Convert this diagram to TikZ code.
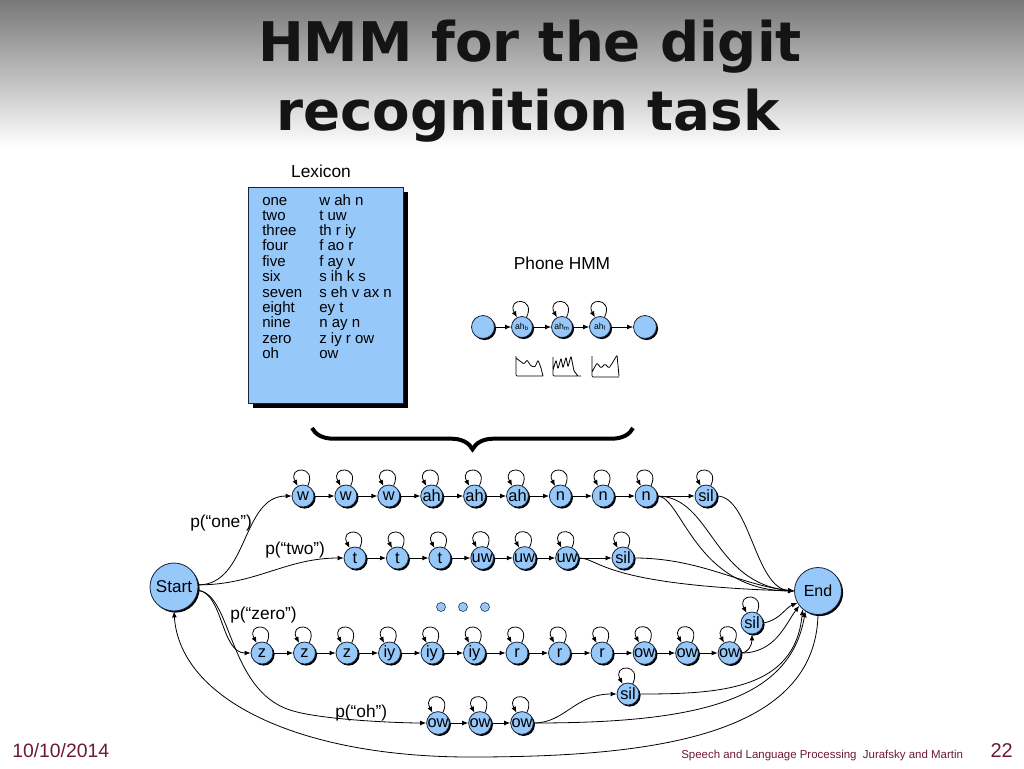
\documentclass[tikz,border=0pt]{standalone}
\usepackage{fontspec}
\setmainfont{Liberation Sans}
\newfontfamily\titlefont{DejaVu Sans}
\usetikzlibrary{arrows.meta,positioning,shadows,decorations.pathreplacing}
\definecolor{hmmblue}{RGB}{150,200,250}
\definecolor{hmmline}{RGB}{25,35,55}
\definecolor{footred}{RGB}{110,25,55}
\tikzstyle{state}=[circle,draw=hmmline,line width=0.6pt,fill=hmmblue,minimum size=16.5pt,inner sep=0pt,
  font=\fontsize{12.3}{13}\selectfont,drop shadow={shadow xshift=1.2pt,shadow yshift=-1.2pt,fill=black,opacity=1}]
\tikzstyle{bigstate}=[state,minimum size=36pt,font=\fontsize{12.8}{13}\selectfont]
\tikzstyle{phstate}=[state,minimum size=15.75pt,font=\fontsize{6.5}{7}\selectfont]
\tikzstyle{dot}=[circle,draw=hmmline,fill=hmmblue,minimum size=6.75pt,inner sep=0pt,line width=0.4pt]
\tikzstyle{arr}=[-{Latex[length=4.5pt,width=3.6pt]},line width=0.6pt]
\tikzstyle{selfloop}=[out=65,in=118,distance=17pt]
\tikzstyle{plabel}=[anchor=base west,inner sep=0pt,font=\fontsize{13}{14}\selectfont]
\tikzstyle{foot}=[inner sep=0pt,text=footred]

\begin{document}
\begin{tikzpicture}[x=0.75pt,y=0.75pt]
  \useasboundingbox (0,0) rectangle (1024,-768);
  \fill[white] (0,0) rectangle (1024,-768);
  \shade[top color=black!53,bottom color=white] (0,0) rectangle (1024,-148);
  \node (title1) [anchor=base,text=black!92,font=\titlefont\bfseries\fontsize{41}{49}\selectfont] at (530,-61) {HMM for the digit};
  \node (title2) [anchor=base,text=black!92,font=\titlefont\bfseries\fontsize{41}{49}\selectfont] at (528,-130) {recognition task};

  \node (lexlabel) [anchor=base,font=\fontsize{13}{14}\selectfont] at (321,-177) {Lexicon};
  \node (lexbox) [draw=hmmline,line width=0.5pt,fill=hmmblue,minimum width=116.25pt,minimum height=162pt,inner sep=0pt,
    drop shadow={shadow xshift=3.5pt,shadow yshift=-3.5pt,fill=black,opacity=1}] at (325.5,-295) {};
  \node (lexwords) [anchor=base west,inner sep=0pt,font=\fontsize{11.25}{11.3}\selectfont] at (262,-205) {%
    \begin{tabular}[t]{@{}p{42.75pt}@{}l@{}}
      one & w ah n\\ two & t uw\\ three & th r iy\\ four & f ao r\\ five & f ay v\\ six & s ih k s\\
      seven & s eh v ax n\\ eight & ey t\\ nine & n ay n\\ zero & z iy r ow\\ oh & ow
    \end{tabular}};

  \node (phlabel) [anchor=base,font=\fontsize{13}{14}\selectfont] at (562,-269) {Phone HMM};
  \node[phstate,minimum size=17.25pt] (ph0) at (483,-327) {};
  \node[phstate] (phb) at (522,-327) {ah\textsubscript{b}};
  \node[phstate] (phm) at (562,-327) {ah\textsubscript{m}};
  \node[phstate] (phf) at (600,-327) {ah\textsubscript{f}};
  \node[phstate,minimum size=17.25pt] (ph4) at (645,-327) {};
  \draw[arr] (ph0) -- (phb);
  \draw[arr] (phb) -- (phm);
  \draw[arr] (phm) -- (phf);
  \draw[arr] (phf) -- (ph4);
  \foreach \p in {phb,phm,phf}
    \draw[arr] (\p) to[selfloop] (\p);
  \draw[line width=0.6pt,rounded corners=0.8pt] (516,-356) -- (516,-376) -- (543,-376)
    (516,-358) -- (520,-361) -- (524,-364) -- (527,-360) -- (531,-366) -- (535,-367) -- (538,-360) -- (541,-368) -- (543,-376);
  \draw[line width=0.6pt,rounded corners=0.8pt] (553,-357) -- (553,-376) -- (581,-376)
    (553,-370) -- (556,-360) -- (558,-369) -- (561,-358) -- (563,-368) -- (566,-357) -- (568,-367) -- (571,-356) -- (574,-371) -- (578,-376);
  \draw[line width=0.6pt,rounded corners=0.8pt] (592,-356) -- (592,-377) -- (619,-377)
    (592,-372) -- (597,-363) -- (601,-368) -- (605,-364) -- (609,-368) -- (613,-362) -- (617,-355) -- (619,-376);

  \draw[line width=3pt,decorate,decoration={brace,mirror,amplitude=16pt}] (312,-428) -- (633,-428);

  \node[bigstate] (start) at (174,-587) {Start};
  \node[bigstate,minimum size=35.25pt,font=\fontsize{12}{13}\selectfont] (end) at (818,-591) {End};

  \foreach \l [count=\i] in {w,w,w,ah,ah,ah,n,n,n}
    \node[state] (one\i) at ({303+42.9*(\i-1)},-496) {\l};
  \node[state] (onesil) at (706,-496) {sil};
  \foreach \l [count=\i] in {t,t,t,uw,uw,uw}
    \node[state] (two\i) at ({355+42.4*(\i-1)},-558) {\l};
  \node[state] (twosil) at (623,-558) {sil};
  \foreach \l [count=\i] in {z,z,z,iy,iy,iy,r,r,r,ow,ow,ow}
    \node[state] (zero\i) at ({262+42.5*(\i-1)},-653) {\l};
  \node[state] (zerosil) at (752,-623) {sil};
  \foreach \l [count=\i] in {ow,ow,ow}
    \node[state] (oh\i) at ({438+42*(\i-1)},-723) {\l};
  \node[state] (ohsil) at (628,-694) {sil};
  \foreach \i in {1,2,3}
    \node[dot] (dot\i) at ({441+22*(\i-1)},-607) {};

  \node (pone) [plabel] at (190,-527) {p(“one”)};
  \node (ptwo) [plabel] at (265,-554) {p(“two”)};
  \node (pzero) [plabel] at (230,-619) {p(“zero”)};
  \node (poh) [plabel] at (335,-717) {p(“oh”)};

  \foreach \i [count=\j from 2] in {1,...,8}
    \draw[arr] (one\i) -- (one\j);
  \foreach \i [count=\j from 2] in {1,...,5}
    \draw[arr] (two\i) -- (two\j);
  \foreach \i [count=\j from 2] in {1,...,11}
    \draw[arr] (zero\i) -- (zero\j);
  \foreach \i [count=\j from 2] in {1,2}
    \draw[arr] (oh\i) -- (oh\j);
  \draw[arr] (one9) -- (onesil);
  \draw[arr] (two6) -- (twosil);
  \draw[arr] (zero12.east) .. controls (748,-653) and (752,-645) .. (zerosil.south);
  \draw[arr] (oh3.east) .. controls (565,-723) and (575,-694) .. (ohsil.west);
  \foreach \s in {one1,one2,one3,one4,one5,one6,one7,one8,one9,onesil,two1,two2,two3,two4,two5,two6,twosil,
    zero1,zero2,zero3,zero4,zero5,zero6,zero7,zero8,zero9,zero10,zero11,zero12,zerosil,oh1,oh2,oh3,ohsil}
    \draw[arr] (\s) to[selfloop] (\s);

  \draw[arr] (start.5) to[out=0,in=180] (one1);
  \draw[arr] (start.5) to[out=0,in=180] (two1);
  \draw[arr] (start.-8) .. controls (223,-593) and (221,-653) .. (zero1.west);
  \coordinate (ohbend) at (290,-710);
  \draw[arr] (start.-8) .. controls (232,-594) and (228,-690) .. (ohbend) .. controls (320,-720) and (400,-723) .. (oh1.west);

  \draw[arr] (one9.east) .. controls (712,-497) and (712,-583) .. (end.west);
  \draw[arr] (one9.east) .. controls (682,-497) and (695,-590) .. (end.west);
  \draw[arr] (onesil.east) .. controls (750,-497) and (755,-588) .. (end.west);
  \draw[arr] (two6.east) .. controls (600,-558) and (600,-585) .. (end.west);
  \draw[arr] (twosil.east) .. controls (700,-558) and (740,-585) .. (end.west);
  \draw[arr] (zerosil.east) .. controls (780,-620) and (785,-608) .. (end.210);
  \draw[arr] (zero12.east) .. controls (775,-653) and (785,-625) .. (end.218);
  \draw[arr] (ohsil.east) .. controls (720,-694) and (795,-690) .. (end.230);
  \draw[arr] (oh3.east) .. controls (700,-723) and (790,-700) .. (end.238);
  \coordinate (loopbot) at (470,-757);
  \draw[arr] (end.south) .. controls (815,-740) and (640,-757) .. (loopbot) .. controls (300,-757) and (180,-700) .. (start.south);

  \node (date) [foot,anchor=base west,font=\fontsize{14.5}{15}\selectfont] at (12,-757) {10/10/2014};
  \node (credit) [foot,anchor=base west,font=\fontsize{8.6}{9}\selectfont] at (681,-758) {Speech and Language Processing\ \ Jurafsky and Martin};
  \node (pageno) [foot,anchor=base east,font=\fontsize{15}{16}\selectfont] at (1013,-757) {22};
\end{tikzpicture}
\end{document}
